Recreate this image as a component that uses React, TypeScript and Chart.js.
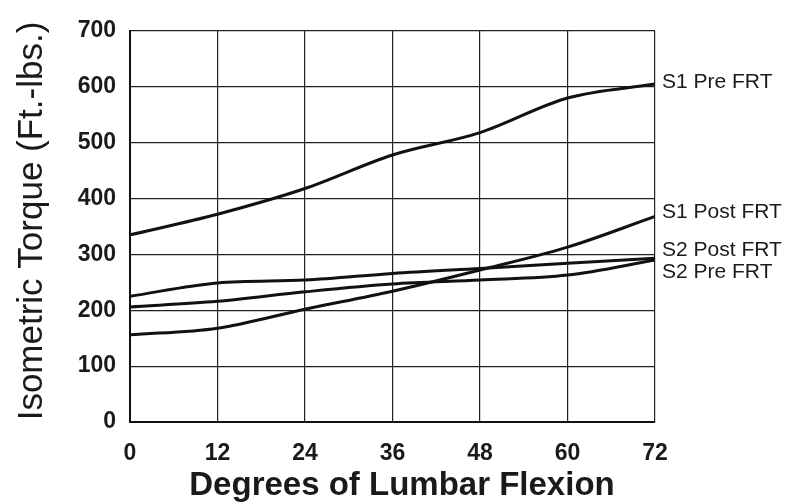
import React, { useEffect, useRef } from "react";
import { Chart, registerables } from "chart.js";

Chart.register(...registerables);

const degrees = [0, 12, 24, 36, 48, 60, 72];
const s1Pre = [335, 372, 418, 478, 518, 580, 605];
const s1Post = [156, 168, 202, 234, 272, 313, 368];
const s2Post = [225, 249, 254, 266, 275, 284, 293];
const s2Pre = [206, 216, 233, 247, 254, 263, 290];
const seriesNames = ["S1 Pre FRT", "S1 Post FRT", "S2 Post FRT", "S2 Pre FRT"];
const labelValues = [608, 376, 308, 268];
const yTicks = [0, 100, 200, 300, 400, 500, 600, 700];

const FONT = "'Liberation Sans', Arial, Helvetica, sans-serif";

export default function App() {
  const ref = useRef<HTMLCanvasElement | null>(null);

  useEffect(() => {
    document.body.style.margin = "0";
    const canvas = ref.current!;
    const all = [s1Pre, s1Post, s2Post, s2Pre];

    const labelsPlugin = {
      id: "customText",
      afterDraw(chart: any) {
        const ctx = chart.ctx;
        const x = chart.scales.x;
        const y = chart.scales.y;
        ctx.save();
        ctx.fillStyle = "#1a1a1a";
        ctx.font = `21px ${FONT}`;
        ctx.textAlign = "left";
        ctx.textBaseline = "middle";
        seriesNames.forEach((n, i) => {
          ctx.fillText(n, x.right + 7, y.getPixelForValue(labelValues[i]));
        });
        // x title
        ctx.font = `bold 33px ${FONT}`;
        ctx.textAlign = "center";
        ctx.fillText("Degrees of Lumbar Flexion", 402, 486);
        // y title
        ctx.translate(32, 221);
        ctx.rotate(-Math.PI / 2);
        ctx.font = `35px ${FONT}`;
        ctx.fillText("Isometric Torque (Ft.-lbs.)", 0, 0);
        ctx.restore();
      },
    };

    const chart = new Chart(canvas, {
      type: "line",
      data: {
        datasets: all.map((vals, i) => ({
          label: seriesNames[i],
          data: degrees.map((d, j) => ({ x: d, y: vals[j] })),
          borderColor: "#111",
          borderWidth: 3,
          pointRadius: 0,
          cubicInterpolationMode: "monotone" as const,
          fill: false,
        })),
      },
      options: {
        animation: false,
        responsive: false,
        maintainAspectRatio: false,
        layout: { padding: { top: 31, right: 135, left: 0, bottom: 0 } },
        plugins: { legend: { display: false }, tooltip: { enabled: false } },
        scales: {
          x: {
            type: "linear",
            min: 0,
            max: 72,
            afterFit(s: any) {
              s.height = 80;
            },
            afterBuildTicks(s: any) {
              s.ticks = degrees.map((v) => ({ value: v }));
            },
            grid: { color: "#222", lineWidth: 1.2, drawTicks: false },
            border: { color: "#111", width: 2 },
            ticks: {
              color: "#1a1a1a",
              font: { family: FONT, size: 23, weight: "bold" },
              padding: 18,
              maxRotation: 0,
            },
          },
          y: {
            min: 0,
            max: 700,
            afterFit(s: any) {
              s.width = 130;
            },
            afterBuildTicks(s: any) {
              s.ticks = yTicks.map((v) => ({ value: v }));
            },
            grid: { color: "#222", lineWidth: 1.2, drawTicks: false },
            border: { color: "#111", width: 2 },
            ticks: {
              color: "#1a1a1a",
              font: { family: FONT, size: 23, weight: "bold" },
              padding: 14,
            },
          },
        },
      },
      plugins: [labelsPlugin],
    });
    return () => chart.destroy();
  }, []);

  return (
    <div style={{ position: "fixed", left: 0, top: 0, width: 790, height: 502, background: "#fff" }}>
      <canvas ref={ref} width={790} height={502} style={{ width: 790, height: 502 }} />
    </div>
  );
}
